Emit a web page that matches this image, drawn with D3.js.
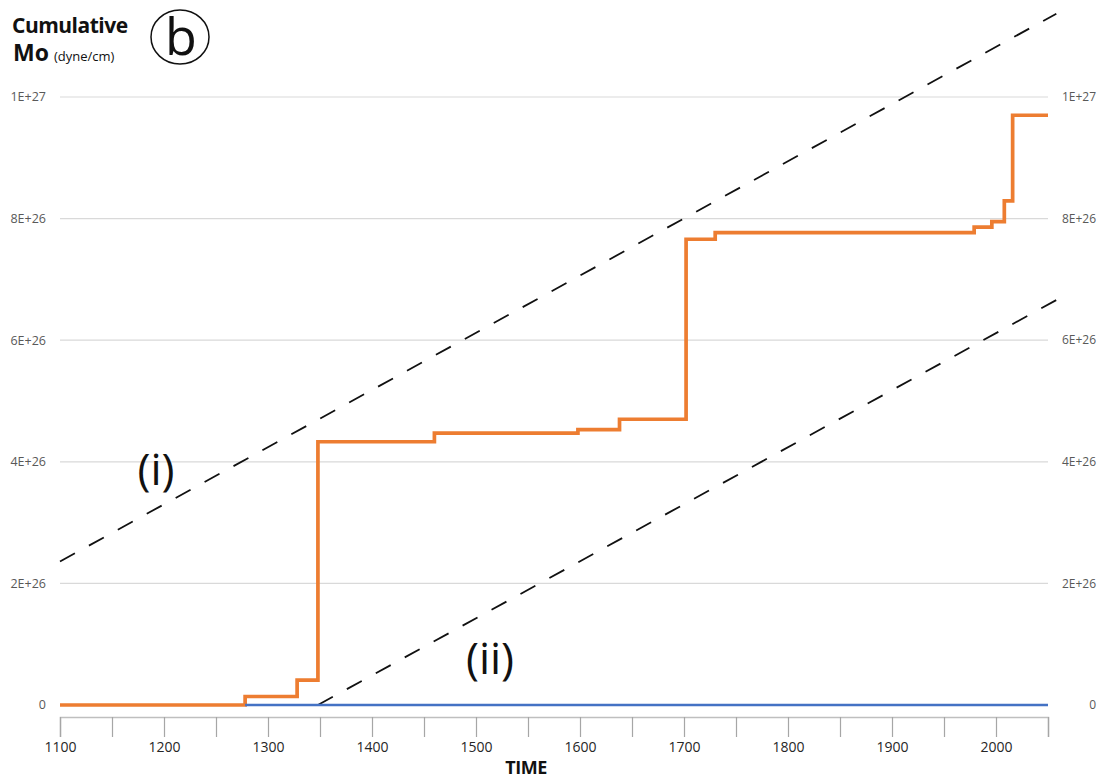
<!DOCTYPE html>
<html>
<head>
<meta charset="utf-8">
<script src="https://cdn.jsdelivr.net/npm/d3@7"></script>
<style>
  html, body { margin: 0; padding: 0; background: #fff; }
  svg { display: block; }
  text { font-family: "Open Sans", "Noto Sans", sans-serif; }
</style>
</head>
<body>
<svg id="chart" width="1097" height="781"></svg>
<script>
// ---- data ----
const stepYears  = [1100, 1278, 1328, 1348, 1460, 1598, 1638, 1702, 1730, 1979, 1996, 2008, 2016, 2050];
const stepMoment = [0, 1.4e25, 4.1e25, 4.33e26, 4.47e26, 4.53e26, 4.70e26, 7.66e26, 7.77e26, 7.86e26, 7.95e26, 8.29e26, 9.70e26, 9.70e26];
const blueYears  = [1278, 2050];
const blueMoment = [0, 0];
const lineIYears  = [1100, 2058];
const lineIMoment = [2.36e26, 11.37e26];
const lineIIYears  = [1348, 2058];
const lineIIMoment = [0, 6.66e26];
const yTicks = [0, 2e26, 4e26, 6e26, 8e26, 1e27];
const yTickLabels = ["0", "2E+26", "4E+26", "6E+26", "8E+26", "1E+27"];
const xTicks = d3.range(1100, 2051, 50);
const xLabelTicks = [1100, 1200, 1300, 1400, 1500, 1600, 1700, 1800, 1900, 2000];

// ---- layout ----
const svg = d3.select("#chart");
const x = d3.scaleLinear().domain([1100, 2050]).range([60, 1048]);
const y = d3.scaleLinear().domain([0, 1e27]).range([705, 97]);
const axisY = 717;

// gridlines
svg.append("g").selectAll("line").data(yTicks.slice(1)).join("line")
  .attr("x1", x(1100)).attr("x2", x(2050))
  .attr("y1", d => y(d)).attr("y2", d => y(d))
  .attr("stroke", "#d9d9d9").attr("stroke-width", 1.2);

// left y labels
svg.append("g").selectAll("text").data(yTicks).join("text")
  .attr("x", 46).attr("y", d => y(d)).attr("dy", "0.35em")
  .attr("text-anchor", "end").attr("font-size", 12.5).attr("fill", "#595959")
  .text((d, i) => yTickLabels[i]);
// right y labels
svg.append("g").selectAll("text").data(yTicks).join("text")
  .attr("x", 1096).attr("y", d => y(d)).attr("dy", "0.35em")
  .attr("text-anchor", "end").attr("font-size", 12).attr("fill", "#595959")
  .text((d, i) => yTickLabels[i]);

// x axis
const xAxis = d3.axisBottom(x).tickValues(xTicks).tickSize(20)
  .tickFormat(d => xLabelTicks.includes(d) ? String(d) : "");
const gx = svg.append("g").attr("transform", `translate(0,${axisY})`).call(xAxis);
gx.select(".domain").attr("stroke", "#bfbfbf").attr("stroke-width", 1.5);
gx.selectAll(".tick line").attr("stroke", "#a6a6a6").attr("stroke-width", 1.2);
gx.selectAll(".tick text").attr("font-size", 14).attr("fill", "#262626")
  .attr("font-family", "'Open Sans', sans-serif").attr("y", 25);

// lines
const line = d3.line().x(d => x(d[0])).y(d => y(d[1]));
const stepLine = d3.line().x(d => x(d[0])).y(d => y(d[1])).curve(d3.curveStepAfter);

svg.append("path").datum(lineIYears.map((t, i) => [t, lineIMoment[i]]))
  .attr("d", line).attr("fill", "none").attr("stroke", "#111")
  .attr("stroke-width", 1.8).attr("stroke-dasharray", "17,16");
svg.append("path").datum(lineIIYears.map((t, i) => [t, lineIIMoment[i]]))
  .attr("d", line).attr("fill", "none").attr("stroke", "#111")
  .attr("stroke-width", 1.8).attr("stroke-dasharray", "17,16");

svg.append("path").datum(stepYears.map((t, i) => [t, stepMoment[i]]))
  .attr("d", stepLine).attr("fill", "none").attr("stroke", "#ED7D31")
  .attr("stroke-width", 3.7).attr("stroke-linejoin", "miter");
svg.append("path").datum(blueYears.map((t, i) => [t, blueMoment[i]]))
  .attr("d", line).attr("fill", "none").attr("stroke", "#4472C4")
  .attr("stroke-width", 2.5);

// titles and annotations
svg.append("text").attr("x", 12).attr("y", 33).attr("font-size", 21)
  .attr("font-weight", "bold").attr("fill", "#111").attr("letter-spacing", "-0.5")
  .text("Cumulative");
const mo = svg.append("text").attr("x", 13).attr("y", 61).attr("fill", "#111");
mo.append("tspan").attr("font-size", 23).attr("font-weight", "bold").text("Mo");
mo.append("tspan").attr("font-size", 13).attr("dx", 5).text("(dyne/cm)");

svg.append("ellipse").attr("cx", 180).attr("cy", 37).attr("rx", 29).attr("ry", 27)
  .attr("fill", "none").attr("stroke", "#111").attr("stroke-width", 1.5);
svg.append("text").attr("x", 181).attr("y", 55).attr("text-anchor", "middle")
  .attr("font-size", 52).attr("fill", "#111").text("b");

svg.append("text").attr("x", 156).attr("y", 485).attr("text-anchor", "middle")
  .attr("font-size", 44).attr("fill", "#111").text("(i)");
svg.append("text").attr("x", 490).attr("y", 674).attr("text-anchor", "middle")
  .attr("font-size", 44).attr("fill", "#111").text("(ii)");

svg.append("text").attr("x", 526).attr("y", 774).attr("text-anchor", "middle")
  .attr("font-size", 18).attr("font-weight", "bold").attr("fill", "#111")
  .attr("letter-spacing", "-0.5").text("TIME");
</script>
</body>
</html>
